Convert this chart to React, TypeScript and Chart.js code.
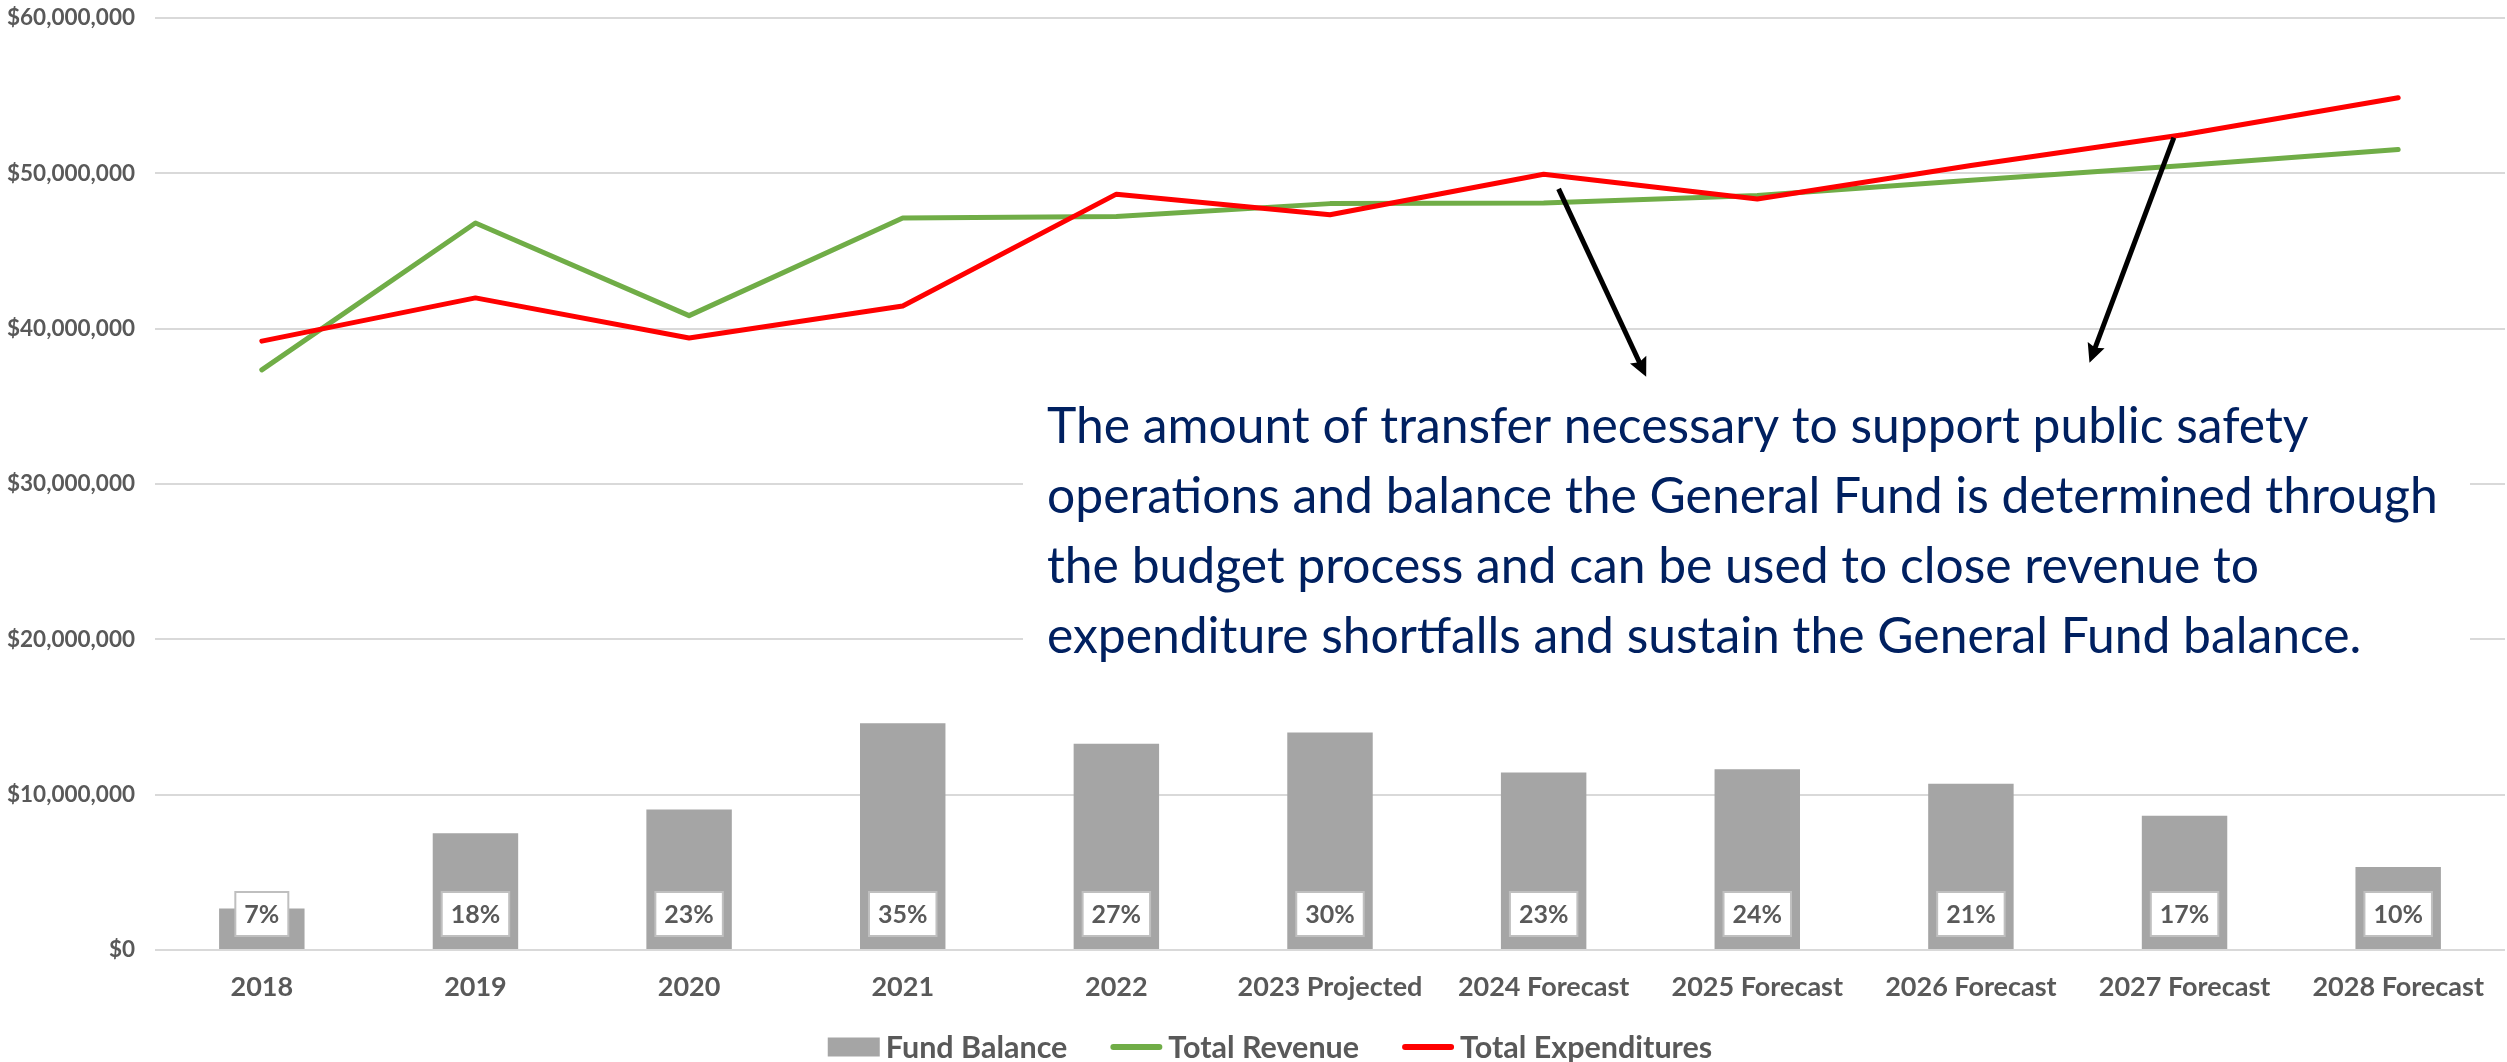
import React, { useEffect, useRef } from "react";
import { Chart, registerables } from "chart.js";

Chart.register(...registerables);

const categories = [
  "2018",
  "2019",
  "2020",
  "2021",
  "2022",
  "2023 Projected",
  "2024 Forecast",
  "2025 Forecast",
  "2026 Forecast",
  "2027 Forecast",
  "2028 Forecast",
];

const fundBalance = [2.67e6, 7.51e6, 9.05e6, 14.6e6, 13.27e6, 14.0e6, 11.42e6, 11.63e6, 10.7e6, 8.64e6, 5.35e6];
const totalRevenue = [37.35e6, 46.8e6, 40.84e6, 47.12e6, 47.22e6, 48.05e6, 48.09e6, 48.58e6, 49.55e6, 50.5e6, 51.54e6];
const totalExpenditures = [39.2e6, 41.98e6, 39.4e6, 41.46e6, 48.66e6, 47.33e6, 49.94e6, 48.35e6, 50.5e6, 52.5e6, 54.87e6];
const fundBalancePct = ["7%", "18%", "23%", "35%", "27%", "30%", "23%", "24%", "21%", "17%", "10%"];

const seriesNames = ["Fund Balance", "Total Revenue", "Total Expenditures"];

const Y_MIN = 0;
const Y_MAX = 60e6;
const Y_STEP = 10e6;

const annotationLines = [
  "The amount of transfer necessary to support public safety",
  "operations and balance the General Fund is determined through",
  "the budget process and can be used to close revenue to",
  "expenditure shortfalls and sustain the General Fund balance.",
];

// arrows in data coordinates: [category index, value]
const arrows = [
  { from: [6.07, 49.0e6], to: [6.48, 36.9e6] },
  { from: [8.95, 52.3e6], to: [8.555, 37.8e6] },
];

const COLORS = {
  bar: "#A5A5A5",
  revenue: "#70AD47",
  expend: "#FF0000",
  grid: "#D9D9D9",
  text: "#595959",
  note: "#002060",
  pctBorder: "#BFBFBF",
};

const FONT = "Lato, 'Open Sans', sans-serif";

const STYLE = {
  yTickSize: 22.5,
  xTickSize: 27,
  legendSize: 30.5,
  pctSize: 25,
  pctBoxH: 44,
  pctBoxPadX: 9,
  pctBoxGap: 14,
  noteBox: { left: 1023, right: 2470, top: 380, bottom: 690 },
  noteX: 1047,
  noteFirstBaseline: 443,
  noteLineGap: 70,
  noteTargetWidth: 1391,
  legendCenterX: 1270,
  legendY: 1047,
};

function drawArrow(ctx: CanvasRenderingContext2D, x1: number, y1: number, x2: number, y2: number) {
  const ang = Math.atan2(y2 - y1, x2 - x1);
  const dx = Math.cos(ang);
  const dy = Math.sin(ang);
  const px = -dy;
  const py = dx;
  const headLen = 19;
  const headW = 9;
  ctx.save();
  ctx.strokeStyle = "#000";
  ctx.fillStyle = "#000";
  ctx.lineWidth = 5;
  ctx.lineCap = "butt";
  ctx.beginPath();
  ctx.moveTo(x1, y1);
  ctx.lineTo(x2 - dx * headLen * 0.7, y2 - dy * headLen * 0.7);
  ctx.stroke();
  const bx = x2 - dx * headLen;
  const by = y2 - dy * headLen;
  ctx.beginPath();
  ctx.moveTo(x2, y2);
  ctx.lineTo(bx + px * headW, by + py * headW);
  ctx.lineTo(x2 - dx * headLen * 0.85, y2 - dy * headLen * 0.85);
  ctx.lineTo(bx - px * headW, by - py * headW);
  ctx.closePath();
  ctx.fill();
  ctx.restore();
}

const overlayPlugin = {
  id: "overlay",
  afterDatasetsDraw(chart: any) {
    const ctx: CanvasRenderingContext2D = chart.ctx;
    const meta = chart.getDatasetMeta(0);
    const yBase = chart.scales.y.getPixelForValue(0);
    ctx.save();
    ctx.font = `bold ${STYLE.pctSize}px ${FONT}`;
    meta.data.forEach((bar: any, i: number) => {
      const text = fundBalancePct[i];
      const w = ctx.measureText(text).width + STYLE.pctBoxPadX * 2;
      const h = STYLE.pctBoxH;
      const cx = bar.x;
      const top = yBase - STYLE.pctBoxGap - h;
      ctx.fillStyle = "#FFFFFF";
      ctx.fillRect(cx - w / 2, top, w, h);
      ctx.strokeStyle = COLORS.pctBorder;
      ctx.lineWidth = 2;
      ctx.strokeRect(cx - w / 2, top, w, h);
      ctx.fillStyle = COLORS.text;
      ctx.textAlign = "center";
      ctx.textBaseline = "middle";
      ctx.fillText(text, cx, top + h / 2 + 1);
    });
    ctx.restore();
  },
  afterDraw(chart: any) {
    const ctx: CanvasRenderingContext2D = chart.ctx;
    const xs = chart.scales.x;
    const ys = chart.scales.y;
    const catW = xs.getPixelForValue(1) - xs.getPixelForValue(0);
    const px = (idx: number) => xs.getPixelForValue(0) + idx * catW;

    // note box
    ctx.save();
    const b = STYLE.noteBox;
    ctx.fillStyle = "#FFFFFF";
    ctx.fillRect(b.left, b.top, b.right - b.left, b.bottom - b.top);
    ctx.font = `100px ${FONT}`;
    const w100 = ctx.measureText(annotationLines[1]).width;
    const size = (100 * STYLE.noteTargetWidth) / w100;
    ctx.font = `${size}px ${FONT}`;
    ctx.fillStyle = COLORS.note;
    ctx.textAlign = "left";
    ctx.textBaseline = "alphabetic";
    annotationLines.forEach((line, i) => {
      ctx.fillText(line, STYLE.noteX, STYLE.noteFirstBaseline + i * STYLE.noteLineGap);
    });
    ctx.restore();

    // arrows
    arrows.forEach((a) => {
      drawArrow(ctx, px(a.from[0]), ys.getPixelForValue(a.from[1]), px(a.to[0]), ys.getPixelForValue(a.to[1]));
    });

    // legend
    ctx.save();
    ctx.font = `bold ${STYLE.legendSize}px ${FONT}`;
    const sw = 52;
    const gapText = 6;
    const gapItem = 43;
    const widths = seriesNames.map((n) => ctx.measureText(n).width);
    const total = widths.reduce((s, w) => s + sw + gapText + w, 0) + gapItem * (seriesNames.length - 1);
    let x = STYLE.legendCenterX - total / 2;
    const y = STYLE.legendY;
    const ds = chart.data.datasets;
    seriesNames.forEach((name, i) => {
      if (i === 0) {
        ctx.fillStyle = ds[0].backgroundColor;
        ctx.fillRect(x, y - 9.5, sw, 19);
      } else {
        ctx.strokeStyle = ds[i].borderColor;
        ctx.lineWidth = 6;
        ctx.lineCap = "round";
        ctx.beginPath();
        ctx.moveTo(x + 3, y);
        ctx.lineTo(x + sw - 3, y);
        ctx.stroke();
      }
      ctx.fillStyle = COLORS.text;
      ctx.textAlign = "left";
      ctx.textBaseline = "middle";
      ctx.fillText(name, x + sw + gapText, y + 1);
      x += sw + gapText + widths[i] + gapItem;
    });
    ctx.restore();
  },
};

export default function App() {
  const ref = useRef<HTMLCanvasElement>(null);
  useEffect(() => {
    document.body.style.margin = "0";
    const canvas = ref.current!;
    const chart = new Chart(canvas, {
      type: "bar",
      data: {
        labels: categories,
        datasets: [
          {
            type: "bar",
            label: seriesNames[0],
            data: fundBalance,
            backgroundColor: COLORS.bar,
            barPercentage: 0.4,
            categoryPercentage: 1.0,
            order: 3,
          },
          {
            type: "line",
            label: seriesNames[1],
            data: totalRevenue,
            borderColor: COLORS.revenue,
            backgroundColor: COLORS.revenue,
            borderWidth: 5,
            pointRadius: 0,
            tension: 0,
            borderJoinStyle: "round",
            borderCapStyle: "round",
            order: 2,
          },
          {
            type: "line",
            label: seriesNames[2],
            data: totalExpenditures,
            borderColor: COLORS.expend,
            backgroundColor: COLORS.expend,
            borderWidth: 5,
            pointRadius: 0,
            tension: 0,
            borderJoinStyle: "round",
            borderCapStyle: "round",
            order: 1,
          },
        ] as any,
      },
      options: {
        animation: false,
        responsive: true,
        maintainAspectRatio: false,
        layout: { padding: { top: 18, right: 2, bottom: 0, left: 0 } },
        plugins: {
          legend: { display: false },
          tooltip: { enabled: false },
        },
        scales: {
          x: {
            grid: { display: false, drawTicks: false },
            border: { display: false },
            ticks: {
              color: COLORS.text,
              font: { family: FONT, size: STYLE.xTickSize, weight: "bold" },
              padding: 21,
              maxRotation: 0,
              autoSkip: false,
            },
            afterFit: (scale: any) => {
              scale.height = 112;
            },
          },
          y: {
            min: Y_MIN,
            max: Y_MAX,
            grid: { color: COLORS.grid, lineWidth: 2, drawTicks: false },
            border: { display: false },
            ticks: {
              stepSize: Y_STEP,
              color: COLORS.text,
              font: { family: FONT, size: STYLE.yTickSize, weight: "bold" },
              padding: 20,
              callback: (v: any) => "$" + Number(v).toLocaleString("en-US"),
            },
            afterFit: (scale: any) => {
              scale.width = 155;
              scale.paddingTop = 0;
              scale.paddingBottom = 0;
            },
          },
        },
      },
      plugins: [overlayPlugin],
    });
    return () => chart.destroy();
  }, []);
  return (
    <div style={{ position: "fixed", left: 0, top: 0, width: "2507px", height: "1062px", background: "#FFFFFF" }}>
      <canvas ref={ref} />
    </div>
  );
}
